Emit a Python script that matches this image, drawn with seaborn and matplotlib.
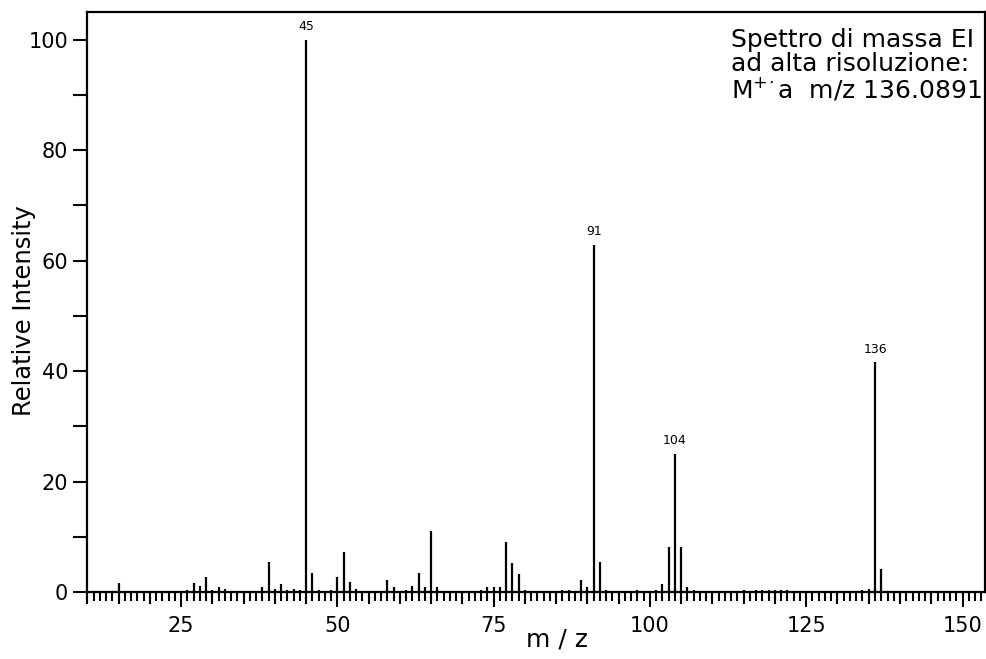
import matplotlib
matplotlib.use("Agg")
import matplotlib.pyplot as plt
import seaborn as sns
import pandas as pd

# m/z values and relative intensities
mz = [15, 26, 27, 28, 29, 30, 31, 32, 38, 39, 40, 41, 42, 43, 44, 45, 46, 47,
      49, 50, 51, 52, 53, 58, 59, 61, 62, 63, 64, 65, 66, 73, 74, 75, 76, 77,
      78, 79, 80, 86, 87, 89, 90, 91, 92, 93, 98, 101, 102, 103, 104, 105,
      106, 107, 115, 117, 118, 119, 120, 121, 122, 134, 135, 136, 137]
intensity = [1.7, 0.4, 1.7, 1.1, 2.8, 0.4, 0.85, 0.55, 0.85, 5.4, 0.55, 1.4,
             0.3, 0.6, 0.3, 100, 3.5, 0.3, 0.3, 2.8, 7.2, 1.75, 0.6, 2.2, 0.85,
             0.3, 1.15, 3.4, 0.9, 11.0, 0.85, 0.3, 0.85, 0.85, 0.85, 9.1, 5.2,
             3.3, 0.3, 0.3, 0.3, 2.2, 0.85, 62.8, 5.5, 0.3, 0.3, 0.3, 1.45, 8.1,
             25.0, 8.1, 0.85, 0.3, 0.3, 0.3, 0.3, 0.3, 0.3, 0.3, 0.3, 0.3, 0.6,
             41.6, 4.1]
labeled_peaks = [45, 91, 104, 136]
x_ticks = [25, 50, 75, 100, 125, 150]
y_ticks = [0, 20, 40, 60, 80, 100]
info_text = "Spettro di massa EI\nad alta risoluzione:\nM$^{+\\!\\cdot}$a  m/z 136.0891"

df = pd.DataFrame({"mz": mz, "intensity": intensity})

sns.set_style("ticks")
plt.rcParams["font.family"] = ["DejaVu Sans"]
plt.rcParams.update({"text.color": "black", "axes.labelcolor": "black",
                     "xtick.color": "black", "ytick.color": "black"})

fig = plt.figure(figsize=(9.86, 6.59), dpi=100)
ax = fig.add_axes([0.088, 0.1017, 0.911, 0.8801])

ax.vlines(df["mz"], 0, df["intensity"], color="black", linewidth=1.6)

for p in labeled_peaks:
    h = df.loc[df["mz"] == p, "intensity"].iloc[0]
    ax.text(p, h + 1.2, str(p), ha="center", va="bottom", fontsize=9)

ax.set_xlim(9.9, 153.6)
ax.set_ylim(0, 105)

ax.set_xticks(x_ticks)
ax.set_xticks(range(10, 154), minor=True)
ax.set_yticks(y_ticks)
ax.set_yticks(range(10, 100, 20), minor=True)

ax.tick_params(axis="x", which="major", length=11, width=1.5, pad=6,
               labelsize=15)
ax.tick_params(axis="x", which="minor", length=6.5, width=1.5)
ax.tick_params(axis="y", which="both", length=10, width=1.5, pad=3.5,
               labelsize=15)

# medium ticks every 5 units
sec = ax.secondary_xaxis("bottom")
sec.set_xticks([v for v in range(10, 154, 5) if v % 25 != 0])
sec.tick_params(length=8.6, width=1.5, labelbottom=False)
sec.spines["bottom"].set_visible(False)

for s in ax.spines.values():
    s.set_linewidth(1.6)
    s.set_color("black")

ax.set_xlabel("m / z", fontsize=18)
ax.xaxis.set_label_coords(0.523, -0.062)
ax.set_ylabel("Relative Intensity", fontsize=17.5)
ax.yaxis.set_label_coords(-0.056, 0.485)

fig.text(0.996, 0.958, info_text, ha="right", va="top", fontsize=18,
         linespacing=1.0, multialignment="left")

fig.savefig("out.png", dpi=100)
